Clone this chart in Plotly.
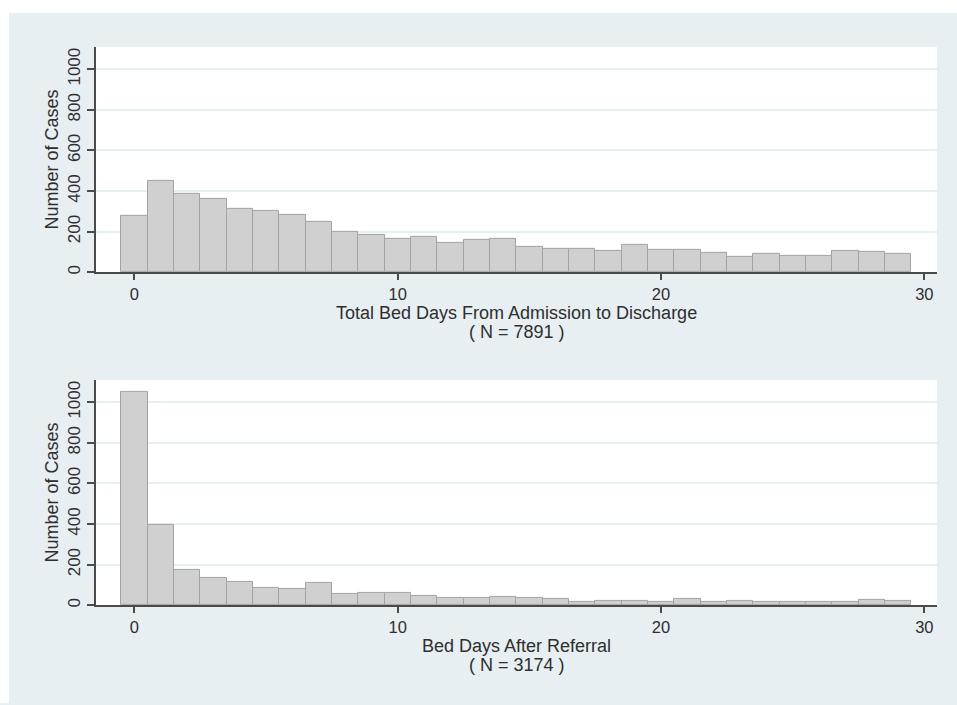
import plotly.graph_objects as go

days = list(range(30))
total_counts = [279, 449, 387, 361, 311, 303, 284, 248, 197, 184,
                166, 172, 146, 161, 164, 126, 113, 115, 107, 133,
                108, 108, 95, 75, 89, 80, 82, 107, 102, 90]
referral_counts = [1052, 398, 172, 134, 115, 87, 82, 111, 54, 59,
                   59, 48, 34, 34, 43, 35, 30, 18, 23, 23,
                   17, 30, 17, 23, 17, 19, 16, 19, 24, 22]
x_ticks = [0, 10, 20, 30]
y_ticks = [0, 200, 400, 600, 800, 1000]
top_title = ["Total Bed Days From Admission to Discharge", "( N = 7891 )"]
bottom_title = ["Bed Days After Referral", "( N = 3174 )"]
y_title = "Number of Cases"

W, H = 957, 705
FONT = "Liberation Sans, Arial, sans-serif"
TXT = "#2e2e2e"
BG = "#e8eff2"
AX = "#4a4a4a"
GRID = "#e6eff1"

fig = go.Figure()
bar_style = dict(marker=dict(color="#d0d0d0", line=dict(color="#a3a3a3", width=1)), width=1.0)
fig.add_trace(go.Bar(x=days, y=total_counts, xaxis="x", yaxis="y", **bar_style))
fig.add_trace(go.Bar(x=days, y=referral_counts, xaxis="x2", yaxis="y2", **bar_style))

def xd(px0, px1):
    return [px0 / W, px1 / W]

def yd(top, bottom):
    return [1 - bottom / H, 1 - top / H]

def yp(px):
    return 1 - px / H

xcommon = dict(range=[-1.457, 30.48], tickvals=x_ticks, ticks="outside", ticklen=6,
               tickwidth=1.5, tickcolor=AX, showline=True, linecolor=AX, linewidth=1.5,
               showgrid=False, zeroline=False, tickfont=dict(size=16.5, color=TXT, family=FONT),
               ticklabelstandoff=0, fixedrange=True)
ycommon = dict(range=[0, 1110], tickvals=y_ticks, ticks="outside", ticklen=7,
               tickwidth=1.5, tickcolor=AX, showline=True, linecolor=AX, linewidth=1.5,
               showgrid=True, gridcolor=GRID, gridwidth=1.5, zeroline=False,
               tickangle=-90, tickfont=dict(size=17, color=TXT, family=FONT),
               title=dict(text=y_title, font=dict(size=18, color=TXT, family=FONT), standoff=2),
               fixedrange=True)

xc = (96 + 937) / 2 / W
annotations = []
for lines, base in ((top_title, 273), (bottom_title, 607)):
    for i, txt in enumerate(lines):
        annotations.append(dict(text=txt, xref="paper", yref="paper", x=xc, y=yp(base + 41 + 19 * i),
                                xanchor="center", yanchor="middle", showarrow=False,
                                font=dict(size=18, color=TXT, family=FONT)))

fig.update_layout(
    width=W, height=H,
    margin=dict(l=0, r=0, t=0, b=0),
    paper_bgcolor=BG, plot_bgcolor="white",
    showlegend=False, bargap=0,
    font=dict(family=FONT, color=TXT),
    xaxis=dict(domain=xd(96, 937), anchor="y", **xcommon),
    yaxis=dict(domain=yd(47, 273), anchor="x", **ycommon),
    xaxis2=dict(domain=xd(96, 937), anchor="y2", **xcommon),
    yaxis2=dict(domain=yd(381, 607), anchor="x2", **ycommon),
    annotations=annotations,
    shapes=[
        dict(type="rect", xref="paper", yref="paper", x0=0, x1=1, y0=1 - 13 / H, y1=1,
             fillcolor="white", line=dict(width=0), layer="below"),
        dict(type="rect", xref="paper", yref="paper", x0=0, x1=9 / W, y0=0, y1=1,
             fillcolor="white", line=dict(width=0), layer="below"),
    ],
)

fig.write_html("out.html", config={"displayModeBar": False},
               post_script="document.body.style.margin='0';document.body.style.background='%s';" % BG)
